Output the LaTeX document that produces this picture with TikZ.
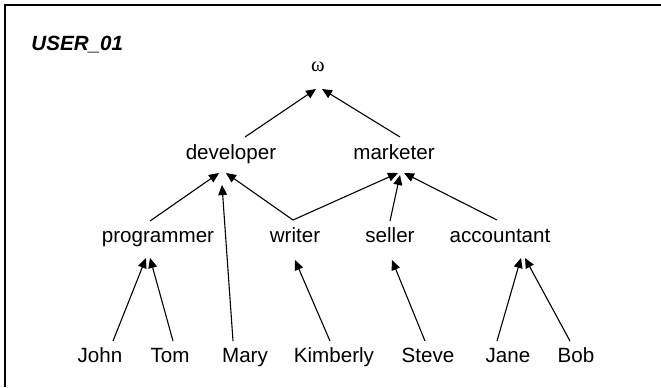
\documentclass[tikz,border=0pt]{standalone}
\usepackage{fontspec}
\setmainfont{Liberation Sans}
\newfontfamily\greekfont{Liberation Serif}
\usetikzlibrary{arrows.meta}
\begin{document}
\begin{tikzpicture}[x=0.5pt,y=-0.5pt,
    lbl/.style={inner sep=0pt,anchor=base,font=\fontsize{10.3}{12}\selectfont},
    arr/.style={-{Triangle[length=5pt,width=4.4pt]},line width=0.55pt}]
    \useasboundingbox (0,0) rectangle (661,387);
    \draw[line width=0.7pt] (661,5) -| (5,387);
    \node[lbl,anchor=base west,font=\fontsize{10.3}{12}\selectfont\bfseries\itshape] (user) at (31,50) {USER\_01};
    \path
    (318,71) node[lbl,font=\fontsize{10.3}{12}\selectfont\greekfont] (omega) {ω}
    (231,159) node[lbl] (dev) {developer}
    (394,159) node[lbl] (mar) {marketer}
    (158,242) node[lbl] (prog) {programmer}
    (295,242) node[lbl] (wri) {writer}
    (390,242) node[lbl] (sel) {seller}
    (500,242) node[lbl] (acc) {accountant}
    ;
    \foreach \n/\x/\t in {john/100/John,tom/170/Tom,mary/245/Mary,kim/334/Kimberly,steve/428/Steve,jane/508/Jane,bob/576/Bob}
        \node[lbl] (\n) at (\x,362) {\t};
    % edges: from node + shift -- to node + shift
    \foreach \a/\ax/\ay/\b/\bx/\by in {
        dev/14/-22/omega/-2/18, mar/6/-22/omega/4/18,
        prog/-8/-21/dev/-12/14, mary/-12/-21/dev/-9/26, wri/-2/-22/dev/-5/14,
        wri/-2/-22/mar/4/14, sel/0/-21/mar/6/16, acc/-3/-22/mar/10/14,
        john/13/-21/prog/-12/16, tom/3/-21/prog/-8/16, kim/-4/-21/wri/0/18,
        steve/-3/-21/sel/2/18, jane/-11/-21/acc/21/16, bob/-6/-21/acc/25/16}
        \draw[arr] ([shift={(\ax,\ay)}]\a.base) -- ([shift={(\bx,\by)}]\b.base);
\end{tikzpicture}
\end{document}
